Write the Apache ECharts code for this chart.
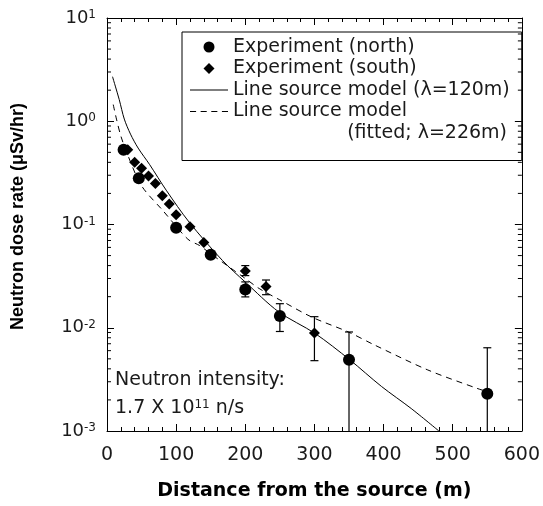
<!DOCTYPE html>
<html><head><meta charset="utf-8">
<script src="https://cdn.jsdelivr.net/npm/echarts@6/dist/echarts.min.js"></script>
<style>html,body{margin:0;padding:0;background:#fff}#c{width:543px;height:506px}</style>
</head><body><div id="c"></div>
<script>
// ---- data ----
const northX = [24, 46, 100, 150, 200, 250, 350, 550];
const northY = [0.53, 0.28, 0.093, 0.051, 0.0235, 0.013, 0.0049, 0.0023];
const southX = [30, 40, 50, 60, 70, 80, 90, 100, 120, 140, 200, 230, 300];
const southY = [0.53, 0.40, 0.35, 0.295, 0.25, 0.19, 0.158, 0.124, 0.095, 0.067, 0.0354, 0.0251, 0.0089];
// [distance, low, high]
const northErr = [[200, 0.0199, 0.0278], [250, 0.0092, 0.0171], [350, 0.0004, 0.0091], [550, 0.0004, 0.0064]];
const southErr = [[200, 0.032, 0.040], [230, 0.0209, 0.029], [300, 0.0048, 0.0128]];
const solidX = [8, 12, 17.7, 25, 34, 45, 61.7, 85.6, 119, 167, 200, 248, 301, 351, 397, 440, 480];
const solidY = [2.7, 2.19, 1.62, 1.05, 0.75, 0.55, 0.38, 0.215, 0.105, 0.0448, 0.0277, 0.0143, 0.0088, 0.0049, 0.0027, 0.00165, 0.001];
const dashX = [9, 14, 20, 30, 50, 81, 117, 134, 150, 200, 220, 250, 296, 349, 387, 464, 535, 550];
const dashY = [1.45, 1.03, 0.72, 0.47, 0.237, 0.136, 0.072, 0.0625, 0.052, 0.030, 0.024, 0.0186, 0.0127, 0.0091, 0.0068, 0.0039, 0.00259, 0.0024];
const xTicks = [0, 100, 200, 300, 400, 500, 600];
const yExps = [-3, -2, -1, 0, 1];
const seriesNames = ['Experiment (north)', 'Experiment (south)', 'Line source model (\u03bb=120m)', 'Line source model'];
const fittedNote = '(fitted; \u03bb=226m)';
const intensityLine1 = 'Neutron intensity:';
const intensityLine2 = '1.7 X 10{s|11} n/s';
const xTitle = 'Distance from the source (m)';
const yTitle = 'Neutron dose rate (\u03bcSv/hr)';

const zip = (a, b) => a.map((v, i) => [v, b[i]]);
const FONT = 'DejaVu Sans';
const TXT = '#1a1a1a';

const xMin = xTicks[0], xMax = xTicks[xTicks.length - 1];
const yMin = Math.pow(10, yExps[0]), yMax = Math.pow(10, yExps[yExps.length - 1]);
const minorVals = [];
for (let e = yExps[0]; e < yExps[yExps.length - 1]; e++)
  for (let k = 2; k <= 9; k++) minorVals.push([xMin, k * Math.pow(10, e)]);

const xBase = {
  type: 'value', min: xMin, max: xMax, interval: 100,
  axisLine: { onZero: false, lineStyle: { color: '#000', width: 1 } },
  axisTick: { inside: true, length: 7, lineStyle: { color: '#000' } },
  minorTick: { show: true, splitNumber: 5, length: 4, lineStyle: { color: '#000' } },
  splitLine: { show: false }, minorSplitLine: { show: false }
};
const yBase = {
  type: 'log', logBase: 10, min: yMin, max: yMax,
  axisLine: { show: true, onZero: false, lineStyle: { color: '#000', width: 1 } },
  axisTick: { show: true, inside: true, length: 7, lineStyle: { color: '#000' } },
  splitLine: { show: false }
};

const errRender = (params, api) => {
  const x = api.value(0), lo = api.value(1), hi = api.value(2);
  const p1 = api.coord([x, hi]), p2 = api.coord([x, lo]);
  const w = 4, st = { stroke: '#000', lineWidth: 1.2 };
  return { type: 'group', children: [
    { type: 'line', shape: { x1: p1[0], y1: p1[1], x2: p2[0], y2: p2[1] }, style: st },
    { type: 'line', shape: { x1: p1[0] - w, y1: p1[1], x2: p1[0] + w, y2: p1[1] }, style: st },
    { type: 'line', shape: { x1: p2[0] - w, y1: p2[1], x2: p2[0] + w, y2: p2[1] }, style: st }
  ] };
};

const solidIcon = 'path://M0 0H38V1.2H0Z';
const dashIcon = 'path://M0 0H6V1.2H0Z M10.5 0H16.5V1.2H10.5Z M21 0H27V1.2H21Z M31.5 0H37.5V1.2H31.5Z';
const diamondIcon = 'path://M5 0L10 5L5 10L0 5Z';

const chart = echarts.init(document.getElementById('c'));
chart.setOption({
  animation: false,
  backgroundColor: '#fff',
  grid: { left: 107, right: 18, top: 18, bottom: 73 },
  xAxis: [
    Object.assign({}, xBase, {
      position: 'bottom',
      axisLabel: { fontFamily: FONT, fontSize: 19, color: TXT, margin: 15 },
      name: xTitle, nameLocation: 'middle', nameGap: 51,
      nameTextStyle: { fontFamily: FONT, fontWeight: 'bold', fontSize: 19, color: '#000' }
    }),
    Object.assign({}, xBase, { position: 'top', axisLabel: { show: false } })
  ],
  yAxis: [
    Object.assign({}, yBase, {
      position: 'left',
      axisLabel: {
        margin: 11,
        formatter: v => '{b|10}{s|' + Math.round(Math.log10(v)) + '}',
        rich: {
          b: { fontFamily: FONT, fontSize: 18, color: TXT, verticalAlign: 'bottom' },
          s: { fontFamily: FONT, fontSize: 12, color: TXT, verticalAlign: 'top' }
        }
      },
      name: yTitle, nameLocation: 'middle', nameGap: 80,
      nameTextStyle: { fontFamily: 'Liberation Sans', fontWeight: 'bold', fontSize: 18, color: '#000', padding: [0, 0, 0, 16] }
    }),
    Object.assign({}, yBase, { position: 'right', axisLabel: { show: false } })
  ],
  legend: {
    orient: 'vertical', left: 182, top: 32,
    data: [
      { name: seriesNames[0], icon: 'circle' },
      { name: seriesNames[1], icon: diamondIcon },
      { name: seriesNames[2], icon: solidIcon },
      { name: seriesNames[3], icon: dashIcon }
    ],
    itemWidth: 38, itemHeight: 11, itemGap: 1.5,
    symbolKeepAspect: true,
    itemStyle: { color: '#000', borderWidth: 0, opacity: 1 },
    padding: [5, 12, 39, 8],
    borderColor: '#000', borderWidth: 1,
    selectedMode: false,
    textStyle: { fontFamily: FONT, fontSize: 19, color: TXT, lineHeight: 20 }
  },
  graphic: [
    { type: 'text', right: 36, top: 124, style: { text: fittedNote, font: '19px "DejaVu Sans"', fill: TXT } },
    { type: 'text', left: 115, top: 371, style: { text: intensityLine1, font: '19px "DejaVu Sans"', fill: TXT } },
    { type: 'text', left: 115, top: 399, style: { text: intensityLine2, font: '19px "DejaVu Sans"', fill: TXT,
        rich: { s: { fontFamily: FONT, fontSize: 12, fill: TXT, verticalAlign: 'top' } } } }
  ],
  series: [
    { name: seriesNames[2], type: 'line', data: zip(solidX, solidY), symbol: 'none', smooth: 0.3,
      lineStyle: { color: '#000', width: 1 }, itemStyle: { color: '#000' }, z: 2 },
    { name: seriesNames[3], type: 'line', data: zip(dashX, dashY), symbol: 'none', smooth: 0.3,
      lineStyle: { color: '#000', width: 1, type: [6, 5] }, itemStyle: { color: '#000' }, z: 2 },
    { type: 'custom', data: northErr, encode: { x: 0, y: [1, 2] }, renderItem: errRender, clip: true, silent: true, z: 3 },
    { type: 'custom', data: southErr, encode: { x: 0, y: [1, 2] }, renderItem: errRender, clip: true, silent: true, z: 3 },
    { name: seriesNames[0], type: 'scatter', data: zip(northX, northY), symbol: 'circle', symbolSize: 12,
      itemStyle: { color: '#000', opacity: 1 }, z: 4 },
    { name: seriesNames[1], type: 'scatter', data: zip(southX, southY), symbol: 'diamond', symbolSize: 11,
      itemStyle: { color: '#000', opacity: 1 }, z: 4 },
    { type: 'custom', data: minorVals, encode: { x: 0, y: 1 }, silent: true, z: 5,
      renderItem: (params, api) => {
        const v = api.value(1);
        const a = api.coord([xMin, v]), b = api.coord([xMax, v]);
        const st = { stroke: '#000', lineWidth: 1 };
        return { type: 'group', children: [
          { type: 'line', shape: { x1: a[0], y1: a[1], x2: a[0] + 4, y2: a[1] }, style: st },
          { type: 'line', shape: { x1: b[0] - 4, y1: b[1], x2: b[0], y2: b[1] }, style: st }
        ] };
      } }
  ]
});
</script>
</body></html>
